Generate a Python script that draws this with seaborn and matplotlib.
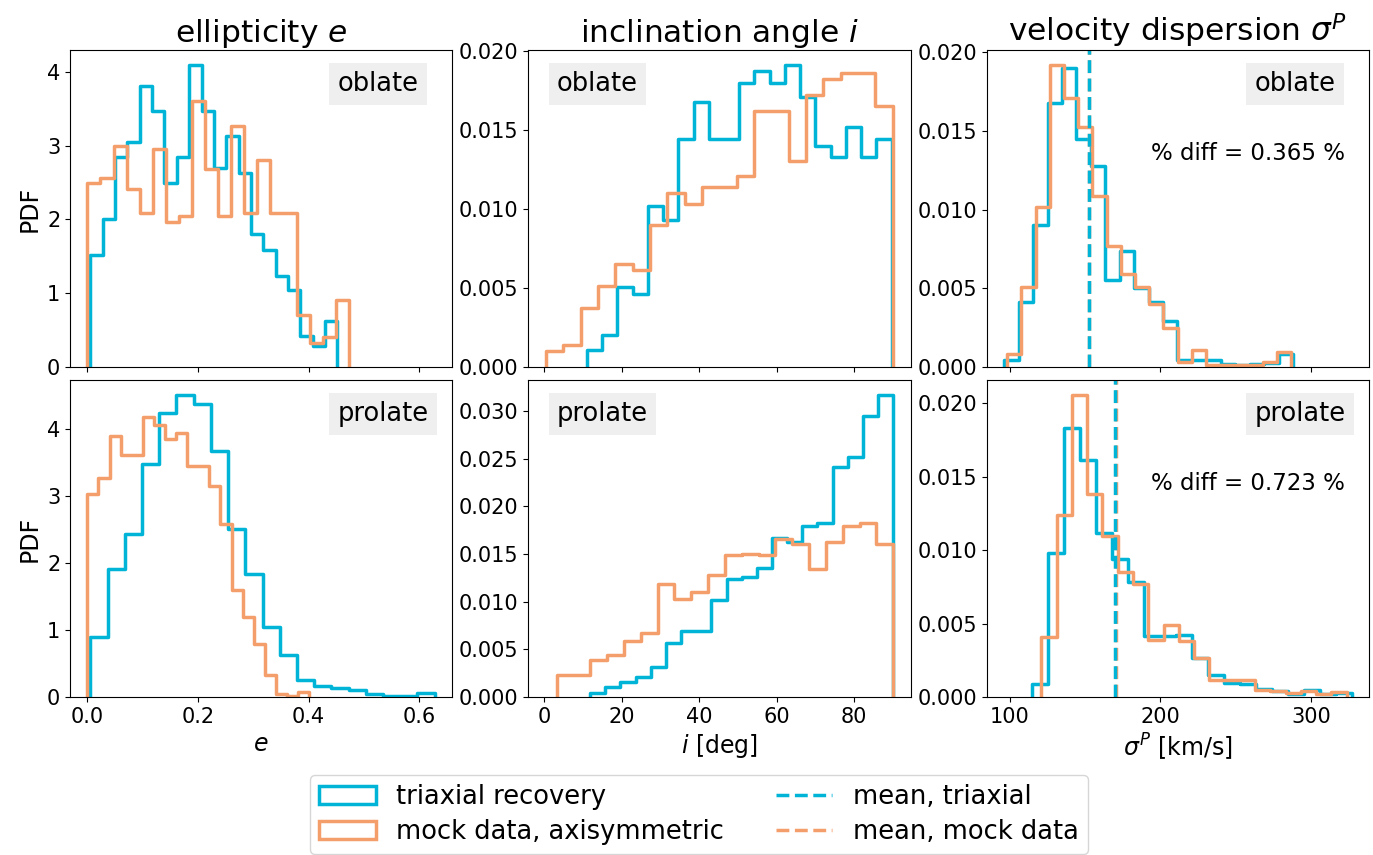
import numpy as np
import pandas as pd
import matplotlib
matplotlib.use("Agg")
import matplotlib.pyplot as plt
import seaborn as sns
from matplotlib.patches import Patch
from matplotlib.lines import Line2D
from matplotlib.ticker import MultipleLocator

# ---------------- data (bin range + PDF heights, 20 bins each) ----------------
# ellipticity e
e_obl_tri_range = (0.0054, 0.452)
e_obl_tri = [1.52, 2.01, 2.85, 3.05, 3.81, 3.47, 2.49, 2.85, 4.09, 3.47,
             2.70, 3.13, 2.63, 1.80, 1.59, 1.23, 1.04, 0.42, 0.28, 0.62]
e_obl_mock_range = (0.0, 0.473)
e_obl_mock = [2.49, 2.56, 3.00, 2.41, 2.09, 2.95, 1.96, 2.04, 3.60, 2.68,
              2.04, 3.27, 2.09, 2.81, 2.09, 2.09, 0.71, 0.33, 0.41, 0.91]
e_pro_tri_range = (0.0054, 0.628)
e_pro_tri = [0.89, 1.91, 2.43, 3.47, 4.24, 4.50, 4.37, 3.66, 2.50, 1.83,
             1.04, 0.63, 0.26, 0.17, 0.14, 0.11, 0.04, 0.015, 0.015, 0.06]
e_pro_mock_range = (0.0, 0.401)
e_pro_mock = [3.02, 3.26, 3.89, 3.61, 3.61, 4.18, 4.06, 3.84, 3.94, 3.45,
              3.45, 3.15, 2.58, 1.60, 1.19, 0.79, 0.33, 0.04, 0.02, 0.07]

# inclination angle i [deg]
i_obl_tri_range = (11.0, 89.7)
i_obl_tri = [0.0011, 0.0020, 0.00506, 0.00464, 0.01017, 0.00932, 0.01443, 0.01677,
             0.01443, 0.01443, 0.01793, 0.01873, 0.01793, 0.01909, 0.01709, 0.01397,
             0.01325, 0.01519, 0.01325, 0.01443]
i_obl_mock_range = (0.4, 90.0)
i_obl_mock = [0.00101, 0.00137, 0.00376, 0.00513, 0.00654, 0.00616, 0.00897, 0.01101,
              0.0103, 0.01139, 0.01139, 0.01207, 0.0162, 0.0162, 0.01304, 0.0172,
              0.01819, 0.01857, 0.01857, 0.0165]
i_pro_tri_range = (11.85, 90.1)
i_pro_tri = [0.00042, 0.00105, 0.00158, 0.0021, 0.00315, 0.00567, 0.00693, 0.00693,
             0.01015, 0.01236, 0.0126, 0.01359, 0.0167, 0.01628, 0.01796, 0.01828,
             0.02416, 0.02514, 0.02948, 0.03169]
i_pro_mock_range = (3.18, 90.1)
i_pro_mock = [0.00228, 0.00228, 0.00385, 0.00438, 0.00588, 0.00676, 0.0119, 0.01026,
              0.01103, 0.01285, 0.01488, 0.01506, 0.01488, 0.01663, 0.01611, 0.01348,
              0.01628, 0.01796, 0.01828, 0.01604]

# velocity dispersion sigma^P [km/s]
s_obl_tri_range = (96.25, 288.1)
s_obl_tri = [0.00047, 0.00414, 0.00902, 0.01677, 0.0190, 0.01448, 0.01274, 0.00552,
             0.00739, 0.00499, 0.00414, 0.00291, 0.00042, 0.00047, 0.00042, 0.00017,
             0.0001, 0.00017, 0.00025, 0.00085]
s_obl_mock_range = (98.2, 287.0)
s_obl_mock = [0.00081, 0.00505, 0.01015, 0.01917, 0.01709, 0.01524, 0.01087, 0.00771,
              0.0059, 0.00505, 0.00399, 0.0025, 0.00032, 0.0011, 0.0001, 0.0001,
              0.0001, 0.0001, 0.00032, 0.00096]
s_pro_tri_range = (114.8, 327.1)
s_pro_tri = [0.00091, 0.0098, 0.01832, 0.01617, 0.01116, 0.00941, 0.00782, 0.00415,
             0.00415, 0.0042, 0.00268, 0.00147, 0.00098, 0.00091, 0.00057, 0.00041,
             0.00018, 0.00045, 0.00023, 0.00027]
s_pro_mock_range = (120.9, 323.8)
s_pro_mock = [0.00408, 0.0124, 0.02057, 0.01383, 0.011, 0.0085, 0.00771, 0.0039,
              0.00488, 0.00379, 0.00268, 0.00118, 0.00118, 0.00118, 0.0005, 0.00041,
              0.00027, 0.00041, 0.00023, 0.00034]

# means of sigma^P
s_mean_obl = [152.3, 152.86]   # triaxial, mock
s_mean_pro = [169.5, 170.7]
pct_diff = ["0.365", "0.723"]

row_names = ["oblate", "prolate"]
col_titles = ["ellipticity $e$", "inclination angle $i$", r"velocity dispersion $\sigma^P$"]
col_xlabels = ["$e$", "$i$ [deg]", r"$\sigma^P$ [km/s]"]
legend_labels = ["triaxial recovery", "mock data, axisymmetric",
                 "mean, triaxial", "mean, mock data"]

C_TRI = "#00B4D8"
C_MOCK = "#F49E6C"
LW = 2.5

# ---------------- plotting ----------------
fig, axes = plt.subplots(2, 3, figsize=(13.73, 8.55), dpi=100, sharex="col")
fig.subplots_adjust(left=70 / 1373, right=1369 / 1373, top=1 - 50 / 855,
                    bottom=1 - 697 / 855, wspace=0.2, hspace=0.041)


def step_hist(ax, rng, heights, color):
    lo, hi = rng
    edges = np.linspace(lo, hi, len(heights) + 1)
    centers = 0.5 * (edges[:-1] + edges[1:])
    eps = (hi - lo) * 1e-7
    bins = list(np.concatenate([[lo - eps], edges, [hi + eps]]))
    df = pd.DataFrame({"x": centers, "w": np.asarray(heights, dtype=float)})
    sns.histplot(data=df, x="x", weights="w", bins=bins, stat="count",
                 element="step", fill=False, color=color, linewidth=LW, ax=ax)


data = [
    [(e_obl_tri_range, e_obl_tri, e_obl_mock_range, e_obl_mock),
     (i_obl_tri_range, i_obl_tri, i_obl_mock_range, i_obl_mock),
     (s_obl_tri_range, s_obl_tri, s_obl_mock_range, s_obl_mock)],
    [(e_pro_tri_range, e_pro_tri, e_pro_mock_range, e_pro_mock),
     (i_pro_tri_range, i_pro_tri, i_pro_mock_range, i_pro_mock),
     (s_pro_tri_range, s_pro_tri, s_pro_mock_range, s_pro_mock)],
]
means = [s_mean_obl, s_mean_pro]

for r in range(2):
    for c in range(3):
        ax = axes[r, c]
        tr, th, mr, mh = data[r][c]
        step_hist(ax, tr, th, C_TRI)
        step_hist(ax, mr, mh, C_MOCK)
        ax.set_ylabel("")
        ax.set_xlabel("")
        ax.tick_params(labelsize=15)
        lx = 0.074 if c == 1 else 0.70
        ax.text(lx, 0.893, row_names[r], transform=ax.transAxes, ha="left", va="center",
                fontsize=18.5,
                bbox=dict(facecolor="#efefef", edgecolor="none", pad=6))
        if c == 2:
            ax.axvline(means[r][1], color=C_MOCK, ls="--", lw=LW)
            ax.axvline(means[r][0], color=C_TRI, ls="--", lw=LW)
            ax.text(0.937, 0.675, f"% diff = {pct_diff[r]} %", transform=ax.transAxes,
                    ha="right", va="center", fontsize=16.5)
        if r == 0:
            ax.set_title(col_titles[c], fontsize=22.5)
        else:
            ax.set_xlabel(col_xlabels[c], fontsize=17)
        if c == 0:
            ax.set_ylabel("PDF", fontsize=17)
            ax.yaxis.set_major_locator(MultipleLocator(1))
        else:
            ax.yaxis.set_major_locator(MultipleLocator(0.005))

axes[1, 0].xaxis.set_major_locator(MultipleLocator(0.2))
axes[1, 1].xaxis.set_major_locator(MultipleLocator(20))
axes[1, 2].xaxis.set_major_locator(MultipleLocator(100))

handles = [Patch(facecolor="none", edgecolor=C_TRI, linewidth=LW),
           Patch(facecolor="none", edgecolor=C_MOCK, linewidth=LW),
           Line2D([], [], color=C_TRI, ls="--", lw=LW),
           Line2D([], [], color=C_MOCK, ls="--", lw=LW)]
fig.legend(handles, legend_labels, ncol=2, fontsize=18.5, loc="upper center",
           bbox_to_anchor=(699 / 1373, 1 - 775 / 855), borderaxespad=0,
           labelspacing=0.35, borderpad=0.35, handlelength=2.2)

fig.savefig("out.png", dpi=100)
